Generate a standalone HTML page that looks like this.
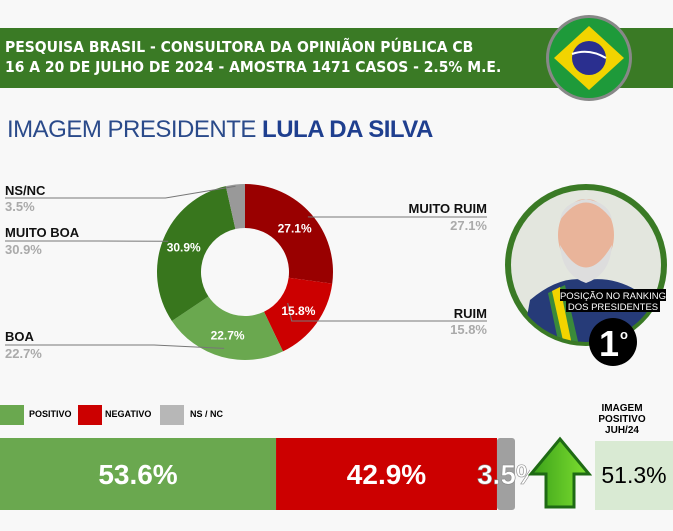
<!DOCTYPE html>
<html><head><meta charset="utf-8"><style>
body{margin:0;width:673px;height:531px;overflow:hidden;background:#f8f8f8;font-family:"Liberation Sans",sans-serif;position:relative}
.abs{position:absolute}
.lbl{font-weight:bold;font-size:13px;color:#111;position:absolute;line-height:14px}
.val{font-weight:bold;font-size:13px;color:#aaa;position:absolute;line-height:14px}
</style></head><body>
<div class="abs" style="left:0;top:28px;width:673px;height:60px;background:#3a7a25"></div>
<div class="abs" style="left:5px;top:37px;color:#fff;font-weight:bold;font-size:15.5px;line-height:20px;font-family:'DejaVu Sans Condensed','Liberation Sans Narrow',sans-serif;white-space:nowrap">PESQUISA BRASIL - CONSULTORA DA OPINIÃON PÚBLICA CB<br>16 A 20 DE JULHO DE 2024 - AMOSTRA 1471 CASOS - 2.5% M.E.</div>
<svg class="abs" style="left:545px;top:12px" width="90" height="92">
<circle cx="44" cy="46" r="43" fill="#888"/><circle cx="44" cy="46" r="40" fill="#1e9a3a"/>
<polygon points="44,14 79,46 44,78 9,46" fill="#f2d400"/><circle cx="44" cy="46" r="17" fill="#2a2f8f"/>
<path d="M27,42 Q44,36 61,46" stroke="#fff" stroke-width="2" fill="none"/></svg>
<div class="abs" style="left:7px;top:116px;font-size:24px;color:#2a4a8a;white-space:nowrap;letter-spacing:-0.5px">IMAGEM PRESIDENTE <b style="color:#1f3f8f">LULA DA SILVA</b></div>

<svg class="abs" id="donut" style="left:0;top:0" width="500" height="380"></svg>

<div class="lbl" style="left:5px;top:184px">NS/NC</div><div class="val" style="left:5px;top:200px">3.5%</div>
<div class="lbl" style="left:5px;top:226px">MUITO BOA</div><div class="val" style="left:5px;top:243px">30.9%</div>
<div class="lbl" style="left:5px;top:330px">BOA</div><div class="val" style="left:5px;top:347px">22.7%</div>
<div class="lbl" style="right:186px;top:202px">MUITO RUIM</div><div class="val" style="right:186px;top:219px">27.1%</div>
<div class="lbl" style="right:186px;top:307px">RUIM</div><div class="val" style="right:186px;top:323px">15.8%</div>

<svg class="abs" style="left:500px;top:175px" width="173" height="200">
<defs><clipPath id="cp"><circle cx="86" cy="90" r="77"/></clipPath></defs>
<circle cx="86" cy="90" r="81" fill="#3a7a25"/><circle cx="86" cy="90" r="75" fill="#e3e6de"/>
<g clip-path="url(#cp)"><path d="M20,180 L30,125 Q60,100 86,105 Q120,100 150,125 L165,180Z" fill="#263b78"/>
<path d="M48,118 L65,110 L80,175 L60,175Z" fill="#3a8a3a"/><path d="M52,116 L60,112 L72,170 L64,170Z" fill="#f2d400"/>
<ellipse cx="86" cy="60" rx="28" ry="36" fill="#e9b49a"/><path d="M60,70 Q86,115 112,70 Q110,100 86,108 Q62,100 60,70Z" fill="#ddd"/>
<path d="M60,45 Q86,10 112,45 Q110,28 86,24 Q62,28 60,45Z" fill="#ddd"/></g>
<rect x="60" y="114" width="106" height="12" fill="#000"/><rect x="66" y="126" width="94" height="11" fill="#000"/>
<text x="113" y="124" font-size="9.5" fill="#fff" text-anchor="middle" font-family="Liberation Sans">POSIÇÃO NO RANKING</text>
<text x="113" y="135" font-size="9.5" fill="#fff" text-anchor="middle" font-family="Liberation Sans">DOS PRESIDENTES</text>
<circle cx="113" cy="167" r="24" fill="#000"/>
<text x="109" y="181" font-size="36" font-weight="bold" fill="#fff" text-anchor="middle" font-family="Liberation Sans">1</text>
<text x="120" y="164" font-size="13" font-weight="bold" fill="#fff" font-family="Liberation Sans">o</text>
</svg>

<div class="abs" style="left:0;top:405px;width:24px;height:20px;background:#6aa84f"></div>
<div class="abs" style="left:29px;top:409px;font-size:9px;font-weight:bold">POSITIVO</div>
<div class="abs" style="left:78px;top:405px;width:24px;height:20px;background:#cc0000"></div>
<div class="abs" style="left:105px;top:409px;font-size:9px;font-weight:bold">NEGATIVO</div>
<div class="abs" style="left:160px;top:405px;width:24px;height:20px;background:#b7b7b7"></div>
<div class="abs" style="left:190px;top:409px;font-size:9px;font-weight:bold">NS / NC</div>

<svg class="abs" id="bar" style="left:0;top:436px" width="530" height="76"></svg>

<svg class="abs" style="left:528px;top:436px" width="64" height="74">
<defs><linearGradient id="ag" x1="0" x2="1"><stop offset="0" stop-color="#3aa01a"/><stop offset="1" stop-color="#7fe030"/></linearGradient></defs>
<polygon points="32,3 61,38 46,38 46,71 18,71 18,38 3,38" fill="url(#ag)" stroke="#1e6a14" stroke-width="3"/></svg>
<div class="abs" style="left:592px;top:403px;width:60px;text-align:center;font-size:10px;font-weight:bold;line-height:11px">IMAGEM<br>POSITIVO<br>JUH/24</div>
<div class="abs" style="left:595px;top:441px;width:78px;height:69px;background:#d9ead3;font-size:23px;line-height:69px;text-align:center">51.3%</div>

<script>
var categories=["MUITO RUIM","RUIM","BOA","MUITO BOA","NS/NC"];
var values=[27.1,15.8,22.7,30.9,3.5];
var colors=["#990000","#cc0000","#6aa84f","#38761d","#999999"];
var barCats=["POSITIVO","NEGATIVO","NS/NC"];
var barValues=[53.6,42.9,3.5];
var barColors=["#6aa84f","#cc0000","#a0a0a0"];
var NS="http://www.w3.org/2000/svg";
var svg=document.getElementById('donut');
var cx=245,cy=272,R=88,r=44;
var total=values.reduce(function(a,b){return a+b},0);
function pt(a,rad){return [cx+rad*Math.sin(a),cy-rad*Math.cos(a)];}
var a0=0;
var leaderY=[217,321,345,241,198];
var anchorR=[0.95,0.6,0.9,0.94,0.98];
values.forEach(function(v,i){
  var a1=a0+v/total*2*Math.PI;
  var p0=pt(a0,R),p1=pt(a1,R),q1=pt(a1,r),q0=pt(a0,r),lg=(a1-a0)>Math.PI?1:0;
  var p=document.createElementNS(NS,'path');
  p.setAttribute('d','M'+p0+' A'+R+','+R+' 0 '+lg+' 1 '+p1+' L'+q1+' A'+r+','+r+' 0 '+lg+' 0 '+q0+'Z');
  p.setAttribute('fill',colors[i]);
  
  
  svg.appendChild(p);
  var m=(a0+a1)/2;
  var e=pt(m,R*anchorR[i]);
  var right=Math.sin(m)>0;
  var x2=right?487:5;
  var kx=right?e[0]+4:e[0]-70;
  var ln=document.createElementNS(NS,'polyline');
  ln.setAttribute('points',e[0]+','+e[1]+' '+kx+','+leaderY[i]+' '+x2+','+leaderY[i]);
  ln.setAttribute('stroke','#777');ln.setAttribute('fill','none');ln.setAttribute('stroke-width','1');
  
  
  svg.appendChild(ln);
  if(v>5){
    var t=document.createElementNS(NS,'text');var c=pt(m,(R+r)/2);
    t.setAttribute('x',c[0]);t.setAttribute('y',c[1]+4);t.setAttribute('text-anchor','middle');
    t.setAttribute('font-size','12');t.setAttribute('font-weight','bold');t.setAttribute('fill','#fff');t.setAttribute('font-family','Liberation Sans');
    t.textContent=v.toFixed(1)+'%';
    
    
    svg.appendChild(t);
  }
  a0=a1;
});
var bs=document.getElementById('bar');
var W=515,bt=barValues.reduce(function(a,b){return a+b},0),x=0;
barValues.forEach(function(v,i){
  var w=v/bt*W;
  var rc=document.createElementNS(NS,'rect');
  rc.setAttribute('x',x);rc.setAttribute('y',2);rc.setAttribute('width',w);rc.setAttribute('height',72);rc.setAttribute('fill',barColors[i]);
  if(i==2){rc.setAttribute('rx',3);}
  
  
  bs.appendChild(rc);
  var t=document.createElementNS(NS,'text');
  t.setAttribute('x',i==2?x+w/2+3:x+w/2);t.setAttribute('y',48);t.setAttribute('text-anchor','middle');
  t.setAttribute('font-size','28');t.setAttribute('font-weight','bold');t.setAttribute('fill','#fff');t.setAttribute('font-family','Liberation Sans');
  if(i==2){t.setAttribute('stroke','#888');t.setAttribute('stroke-width','0.6');}
  t.textContent=v.toFixed(1)+'%';
  
  
  bs.appendChild(t);
  x+=w;
});
</script>
</body></html>
